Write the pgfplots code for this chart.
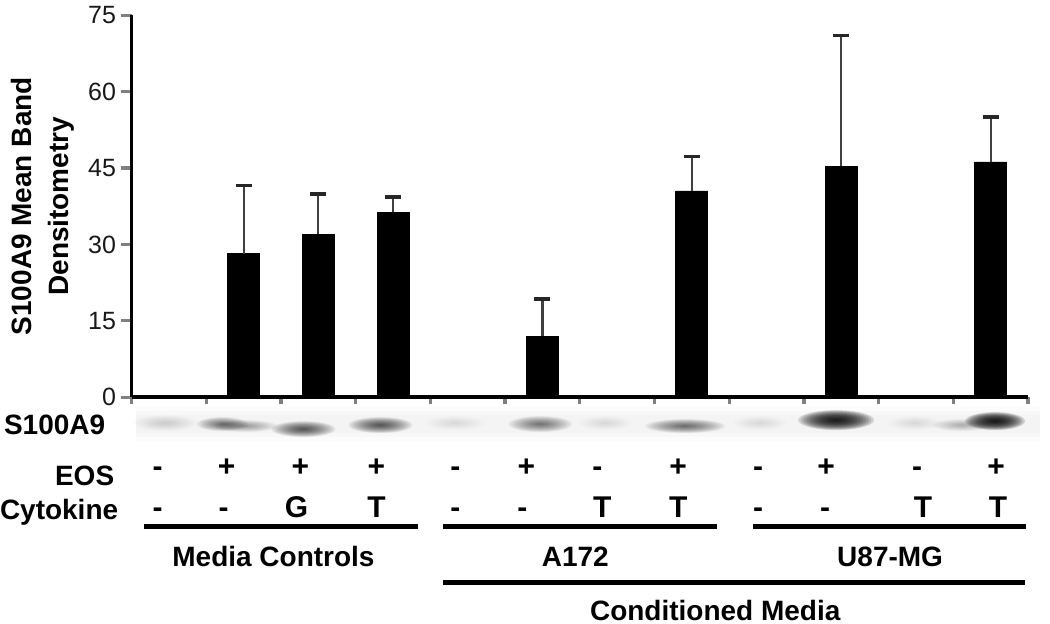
\documentclass[border=0pt]{standalone}
\usepackage{fontspec}
\setmainfont{Liberation Sans}
\usepackage{pgfplots}
\pgfplotsset{compat=1.18}
\newcommand\lab{\bfseries\fontsize{14}{16}\selectfont}
\newcommand\sym{\bfseries\fontsize{15}{16}\selectfont}
% band: cx, cy (px from top), rx, ry, opacity per layer
\newcommand\band[5]{%
  \foreach \k in {1,...,14}{%
    \fill[black, opacity=#5] (#1,619-#2) ellipse ({#3*\k/14} and {#4*\k/14});}%
}
\begin{document}
\begin{tikzpicture}
\begin{scope}[x=0.5pt,y=0.5pt]
\useasboundingbox (0,0) rectangle (1050,619);
% blot strip background
\fill[black, opacity=0.012] (135,619-402) rectangle (1040,619-436);
\fill[black, opacity=0.015] (135,619-406) rectangle (1040,619-432);
\fill[black, opacity=0.015] (135,619-410) rectangle (1040,619-428);
% bands
\band{165}{418}{32}{8}{0.010}
\band{222}{419}{26}{7}{0.05}
\band{245}{421}{32}{6}{0.03}
\band{303}{424}{32}{8}{0.07}
\band{380}{420}{32}{8}{0.07}
\band{455}{418}{30}{7}{0.008}
\band{540}{419}{32}{8}{0.05}
\band{605}{418}{27}{7}{0.008}
\band{685}{421}{40}{7}{0.055}
\band{760}{418}{27}{7}{0.008}
\band{836}{415}{38}{10}{0.14}
\band{915}{418}{27}{7}{0.008}
\band{962}{420}{30}{6}{0.025}
\band{995}{416}{30}{9}{0.15}
\end{scope}
\begin{axis}[
  at={(65.5pt,113.5pt)}, anchor=south west,
  width=448.5pt, height=191pt, scale only axis,
  xmin=0.5, xmax=12.5, ymin=0, ymax=75,
  axis x line*=bottom, axis y line*=left,
  axis line style={line width=1.8pt},
  ytick={0,15,30,45,60,75},
  xtick={0.5,1.5,2.5,3.5,4.5,5.5,6.5,7.5,8.5,9.5,10.5,11.5,12.5},
  xticklabels={},
  tick align=outside,
  x tick style={line width=1.6pt, /pgfplots/major tick length=3.5pt},
  y tick style={line width=1.6pt, /pgfplots/major tick length=5.5pt},
  yticklabel style={font=\fontsize{12.5}{14}\selectfont, black!90},
  /pgf/number format/assume math mode=true,
  ylabel={S100A9 Mean Band\\Densitometry},
  ylabel style={align=center, font=\bfseries\fontsize{14}{18.5}\selectfont},
  clip=false,
]
\addplot[ybar, bar width=16pt, fill=black, draw=black,
  error bars/.cd, y dir=plus, y explicit,
  error bar style={line width=1.1pt, black!75},
  error mark options={rotate=90, mark size=4pt, line width=1.7pt, black!85}]
  table[x=x, y=y, y error=e] {
x y e
2 28.2 13.4
3 32.0 7.9
4 36.3 3.0
6 12.0 7.3
8 40.5 6.8
10 45.4 25.7
12 46.2 8.8
};
\end{axis}
\begin{scope}[x=0.5pt,y=0.5pt, lbl/.style={font=\lab, inner sep=0pt}, sl/.style={font=\sym, inner sep=0pt}]
% lane labels
\node[lbl, anchor=base west] at (3,619-429) {S100A9};
\node[lbl, anchor=base east] at (114,619-480) {EOS};
\node[lbl, anchor=base east] at (118,619-514) {Cytokine};
\foreach \x/\s in {157/-,226/+,300/+,376/+,455/-,526/+,597/-,678/+,758/-,826/+,917/-,996/+}
  \node[sl, anchor=base] at (\x,619-471) {\s};
\foreach \x/\s in {157/-,223/-,296/G,376/T,455/-,522/-,602/T,678/T,758/-,825/-,923/T,998/T}
  \node[sl, anchor=base] at (\x,619-512) {\s};
\draw[line width=2.5pt] (143,619-521) -- (418,619-521);
\draw[line width=2.5pt] (443,619-521) -- (717,619-521);
\draw[line width=2.5pt] (753,619-521) -- (1026,619-521);
\draw[line width=2.5pt] (443,619-577) -- (1025,619-577);
\node[lbl, anchor=base] at (273,619-561) {Media Controls};
\node[lbl, anchor=base] at (575,619-561) {A172};
\node[lbl, anchor=base] at (890,619-561) {U87-MG};
\node[lbl, anchor=base] at (715,619-616) {Conditioned Media};
\end{scope}
\end{tikzpicture}
\end{document}
